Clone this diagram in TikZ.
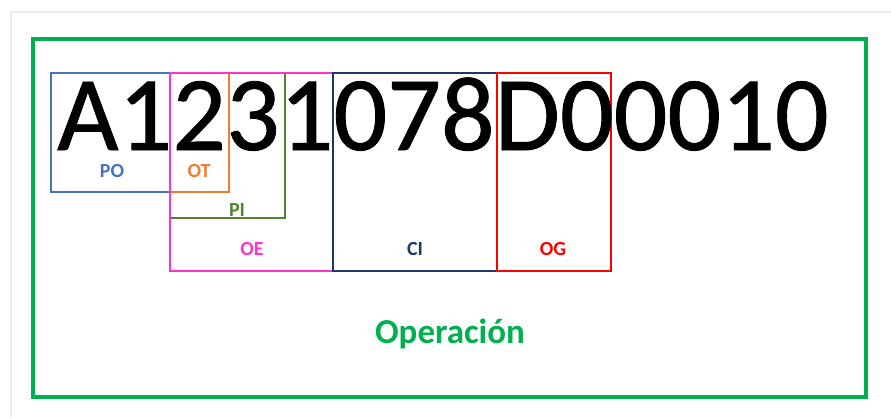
\documentclass[tikz,border=0pt]{standalone}
\usepackage{fontspec}
\setmainfont{Carlito}
\font\bigcodefont="Carlito:embolden=0.8" at 106pt
\definecolor{opgreen}{HTML}{00B050}
\definecolor{poblue}{HTML}{4472C4}
\definecolor{otorange}{HTML}{ED7D31}
\definecolor{pigreen}{HTML}{548235}
\definecolor{oemag}{HTML}{FF33CC}
\definecolor{cinavy}{HTML}{1F3864}
\definecolor{ogred}{HTML}{FF0000}
\definecolor{shadowgray}{HTML}{EBEBEB}
\begin{document}
\begin{tikzpicture}[x=1pt,y=-1pt,
  fieldbox/.style={line width=2.8pt},
  fieldlabel/.style={font=\fontsize{20}{20}\selectfont\bfseries, inner sep=0pt},
  bigcode/.style={font=\bigcodefont, inner sep=0pt, anchor=base west}]
\useasboundingbox (0,0) rectangle (891,418);
\fill[white] (0,0) rectangle (891,418);
% faint page shadow
\draw[shadowgray, line width=1.5pt] (11,418) -- (11,12) -- (891,12);
% outer green frame
\draw[opgreen, line width=3.2pt] (33,39) rectangle (866,397);
% field boxes
\draw[fieldbox, poblue] (51,73) rectangle (170,192);
\draw[fieldbox, otorange] (170,73) rectangle (229,192);
\draw[fieldbox, pigreen] (170,73) rectangle (285,218);
\draw[fieldbox, oemag] (170,73) rectangle (333,271);
\draw[fieldbox, cinavy] (333,73) rectangle (497,271);
\draw[fieldbox, ogred] (497,73) rectangle (611,271);
% code
\node[bigcode] (code) at (57,150) {A1231078D00010};
% labels
\node[fieldlabel, text=poblue] (po) at (112,171) {PO};
\node[fieldlabel, text=otorange] (ot) at (199,171) {OT};
\node[fieldlabel, text=pigreen] (pi) at (237,210) {PI};
\node[fieldlabel, text=oemag] (oe) at (252,249) {OE};
\node[fieldlabel, text=cinavy] (ci) at (415,249) {CI};
\node[fieldlabel, text=ogred] (og) at (553,249) {OG};
\node[font=\fontsize{35}{35}\selectfont\bfseries, text=opgreen, inner sep=0pt] (op) at (450,334) {Operación};
\end{tikzpicture}
\end{document}
